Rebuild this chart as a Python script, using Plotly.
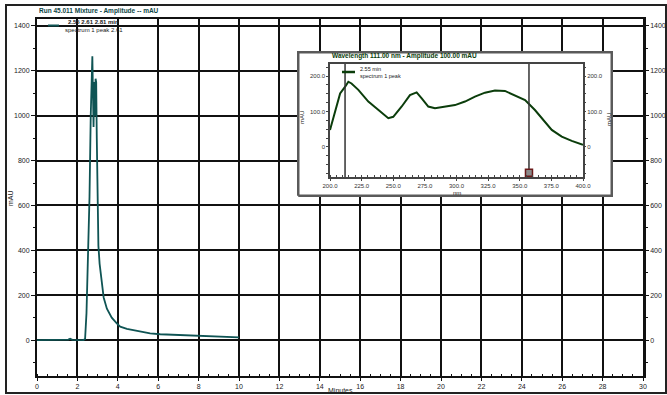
import plotly.graph_objects as go

# ---------------- data ----------------
time_min = [0.0, 1.2, 1.55, 1.64, 1.75, 2.3, 2.38, 2.45, 2.5, 2.55, 2.6, 2.66, 2.7, 2.74, 2.77,
            2.8, 2.83, 2.86, 2.9, 2.93, 2.96, 3.0, 3.04, 3.1, 3.2, 3.3, 3.46, 3.7, 3.95, 4.12,
            4.45, 5.26, 5.6, 6.1, 7.26, 8.9, 10.0]
signal_mau = [0, 0, 2, 6, 1, 0, 5, 120, 290, 400, 640, 1000, 1190, 1265, 1100,
              950, 1150, 1000, 1165, 1150, 900, 600, 420, 340, 250, 190, 140, 100, 75, 60,
              50, 35, 30, 26, 22, 15, 12]

wavelength_nm = [200, 204, 208, 212, 214.5, 217, 222.4, 230.3, 238.2, 246.1, 250, 256.7, 263.2,
                 268.5, 272.5, 277.7, 283, 290.9, 298.8, 306.7, 314.6, 322.5, 330.4, 338.3,
                 346.2, 354.2, 362, 368.6, 375.3, 383.2, 391.1, 400]
spectrum_mau = [48, 99, 151, 170, 184, 179, 161, 128, 104, 81, 85, 114, 146,
                154, 137, 114, 109, 114, 118, 128, 142, 153, 159, 158,
                146, 132, 104, 76, 48, 29, 17, 6]

x_ticks = list(range(0, 31, 2))
y_ticks = list(range(0, 1401, 200))
inset_x_ticks = [200, 225, 250, 275, 300, 325, 350, 375, 400]
inset_x_labels = ["200.0", "225.0", "250.0", "275.0", "300.0", "325.0", "350.0", "375.0", "400.0"]
inset_y_ticks = [0, 100, 200]
inset_y_labels = ["0", "100.0", "200.0"]
cursor_nm = [211.9, 357.3]
marker_nm = [357.3]
marker_mau = [-73]

# ---------------- layout helpers (pixel -> paper) ----------------
W, H = 667, 395
L, R, T, B = 37, 643, 19, 376


def px(x):
    return (x - L) / (R - L)


def py(y):
    return (B - y) / (B - T)


FONT = "Liberation Sans, Arial, sans-serif"
tickfont = dict(family=FONT, size=7, color="#222")
insetfont = dict(family=FONT, size=6, color="#333")

fig = go.Figure()

# main chromatogram
fig.add_trace(go.Scatter(x=time_min, y=signal_mau, mode="lines",
                         line=dict(color="#0f5454", width=1.8),
                         xaxis="x", yaxis="y", showlegend=False, hoverinfo="skip"))
# dummy for right axis
fig.add_trace(go.Scatter(x=[0], y=[0], mode="markers", marker=dict(opacity=0),
                         xaxis="x", yaxis="y2", showlegend=False, hoverinfo="skip"))

# inset background box (separate subplot above main grid)
box_x0, box_x1, box_y0, box_y1 = 297, 613, 51, 197
fig.add_trace(go.Scatter(x=[0, 1, 1, 0, 0], y=[0, 0, 1, 1, 0], mode="lines", fill="toself",
                         fillcolor="white", line=dict(color="#5a5a5a", width=2.5),
                         xaxis="x3", yaxis="y3", showlegend=False, hoverinfo="skip"))

# inset spectrum
fig.add_trace(go.Scatter(x=wavelength_nm, y=spectrum_mau, mode="lines",
                         line=dict(color="#0b3d0b", width=2),
                         xaxis="x4", yaxis="y4", showlegend=False, hoverinfo="skip"))
for c in cursor_nm:
    fig.add_trace(go.Scatter(x=[c, c], y=[-85, 234], mode="lines",
                             line=dict(color="#333", width=1.5),
                             xaxis="x4", yaxis="y4", showlegend=False, hoverinfo="skip"))
fig.add_trace(go.Scatter(x=marker_nm, y=marker_mau, mode="markers",
                         marker=dict(symbol="square", size=7, color="#8a8a8a",
                                     line=dict(color="#6b1a1a", width=1.5)),
                         cliponaxis=False,
                         xaxis="x4", yaxis="y4", showlegend=False, hoverinfo="skip"))
fig.add_trace(go.Scatter(x=[200], y=[0], mode="markers", marker=dict(opacity=0),
                         xaxis="x4", yaxis="y5", showlegend=False, hoverinfo="skip"))

ymin, ymax = -160, 1431
pad = 0.004
fig.update_layout(
    width=W, height=H,
    margin=dict(l=L, r=W - R, t=T, b=H - B, autoexpand=False),
    paper_bgcolor="white", plot_bgcolor="white",
    font=dict(family=FONT, size=7, color="#222"),
    xaxis=dict(range=[0, 30], domain=[0, 1], anchor="y", tickvals=x_ticks, automargin=False,
               showgrid=True, gridcolor="#111", gridwidth=1.5, zeroline=False,
               showline=True, linecolor="#111", linewidth=2, mirror=True,
               ticks="outside", ticklen=3, tickcolor="#111", tickfont=tickfont,
               minor=dict(dtick=0.5, ticks="inside", ticklen=2, tickcolor="#111", showgrid=False)),
    yaxis=dict(range=[ymin, ymax], domain=[0, 1], anchor="x", tickvals=y_ticks, automargin=False,
               showgrid=True, gridcolor="#111", gridwidth=1.5, zeroline=False,
               showline=True, linecolor="#111", linewidth=2,
               ticks="outside", ticklen=4, tickcolor="#111", tickfont=tickfont,
               minor=dict(dtick=100, ticks="outside", ticklen=2, tickcolor="#111", showgrid=False)),
    yaxis2=dict(range=[ymin, ymax], overlaying="y", side="right", anchor="x", tickvals=y_ticks,
                automargin=False,
                showgrid=False, zeroline=False, showline=True, linecolor="#111", linewidth=2.5,
                ticks="outside", ticklen=3, tickcolor="#111", tickfont=tickfont,
                minor=dict(dtick=100, ticks="outside", ticklen=2, tickcolor="#111")),
    xaxis3=dict(domain=[px(box_x0), px(box_x1)], range=[-pad, 1 + pad], anchor="y3",
                visible=False, automargin=False),
    yaxis3=dict(domain=[py(box_y1), py(box_y0)], range=[-pad * 2, 1 + pad * 2], anchor="x3",
                visible=False, automargin=False),
    xaxis4=dict(domain=[px(330), px(583)], range=[200, 400], anchor="y4", tickvals=inset_x_ticks,
                ticktext=inset_x_labels, automargin=False,
                showgrid=False, zeroline=False, showline=True, linecolor="#444", linewidth=1.5,
                mirror=True, ticks="outside", ticklen=2, tickcolor="#444", tickfont=insetfont,
                minor=dict(dtick=5, ticks="inside", ticklen=2, tickcolor="#444")),
    yaxis4=dict(domain=[py(177), py(64)], range=[-85, 234], anchor="x4", tickvals=inset_y_ticks,
                ticktext=inset_y_labels, automargin=False,
                showgrid=False, zeroline=False, showline=True, linecolor="#444", linewidth=1.5,
                mirror=True, ticks="outside", ticklen=2, tickcolor="#444", tickfont=insetfont,
                minor=dict(dtick=25, ticks="outside", ticklen=2, tickcolor="#444")),
    yaxis5=dict(range=[-85, 234], overlaying="y4", side="right", anchor="x4", tickvals=inset_y_ticks,
                ticktext=inset_y_labels, automargin=False,
                showgrid=False, zeroline=False, showline=False,
                ticks="outside", ticklen=2, tickcolor="#444", tickfont=insetfont,
                minor=dict(dtick=25, ticks="outside", ticklen=2, tickcolor="#444")),
)

shapes = [
    # outer frame
    dict(type="rect", xref="paper", yref="paper", x0=px(6), x1=px(666), y0=py(393), y1=py(5),
         line=dict(color="#222", width=2), layer="above"),
    # main legend sample
    dict(type="line", xref="paper", yref="paper", x0=px(48), x1=px(59), y0=py(25.5), y1=py(25.5),
         line=dict(color="#0f5454", width=2)),
    # inset legend sample
    dict(type="line", xref="paper", yref="paper", x0=px(342), x1=px(355), y0=py(72), y1=py(72),
         line=dict(color="#0b3d0b", width=2.5)),
]
fig.update_layout(shapes=shapes)

ann = []


def text(x, y, s, size=7, color="#222", xanchor="left", bold=False, angle=0):
    ann.append(dict(x=px(x), y=py(y), xref="paper", yref="paper", text=f"<b>{s}</b>" if bold else s,
                    showarrow=False, xanchor=xanchor, yanchor="middle", textangle=angle,
                    font=dict(family=FONT, size=size, color=color)))


text(37, 11, "Run 45.011 Mixture - Amplitude -- mAU", size=6.5, color="#0c4545", bold=True)
text(66, 22, "2.55 2.61 2.81 min", size=6, color="#222", bold=True)
text(63, 30, "spectrum 1 peak 2.61", size=6, color="#222")
text(10, 198, "mAU", size=7, angle=-90, xanchor="center")
text(340, 390, "Minutes", size=7, xanchor="center")
text(330, 56, "Wavelength 111.00 nm - Amplitude 100.00 mAU", size=6.5, color="#0b3d0b", bold=True)
text(358, 69, "2.55 min", size=5.5, color="#222")
text(358, 75.5, "spectrum 1 peak", size=5.5, color="#222")
text(302, 118, "mAU", size=6, angle=-90, xanchor="center")
text(609, 120, "mAU", size=6, angle=-90, xanchor="center")
text(457, 193, "nm", size=6, xanchor="center")
fig.update_layout(annotations=ann)

fig.write_html("out.html")
